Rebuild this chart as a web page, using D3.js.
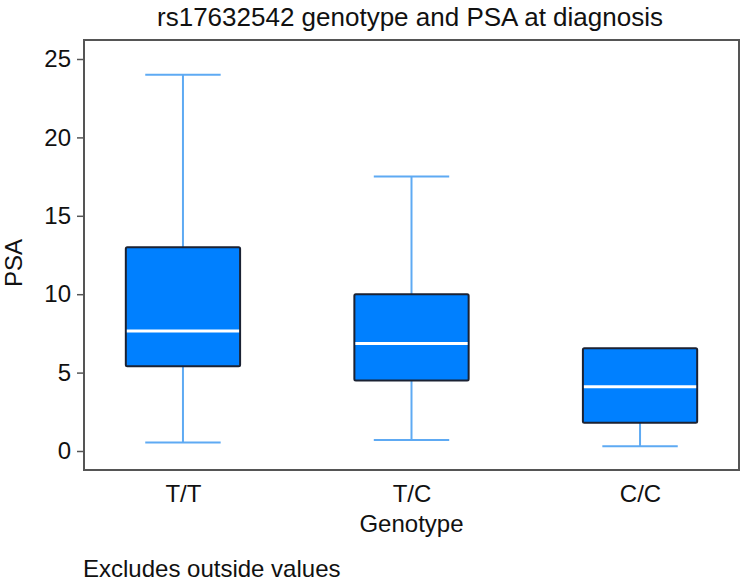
<!DOCTYPE html>
<html>
<head>
<meta charset="utf-8">
<script src="https://cdn.jsdelivr.net/npm/d3@7"></script>
<style>
  html, body { margin: 0; padding: 0; background: #fff; }
  svg text { font-family: "Liberation Sans", Arial, Helvetica, sans-serif; fill: #111; }
</style>
</head>
<body>
<svg id="chart" width="741" height="583"></svg>
<script>
const categories = ["T/T", "T/C", "C/C"];
const whiskerLow  = [0.55, 0.7, 0.3];
const boxLow      = [5.4, 4.5, 1.8];
const medians     = [7.65, 6.85, 4.1];
const boxHigh     = [13.0, 10.0, 6.55];
const whiskerHigh = [24.0, 17.5, 6.55];
const yTicks = [0, 5, 10, 15, 20, 25];
const title = "rs17632542 genotype and PSA at diagnosis";
const xTitle = "Genotype";
const yTitle = "PSA";
const note = "Excludes outside values";

(function () {
const data = categories.map((c, i) => ({
  cat: c, wl: whiskerLow[i], q1: boxLow[i], med: medians[i], q3: boxHigh[i], wh: whiskerHigh[i]
}));

const svg = d3.select("#chart");
const pLeft = 84, pRight = 739, pTop = 40, pBottom = 470;

const x = d3.scalePoint().domain(categories).range([pLeft, pRight]).padding(0.433);
const y = d3.scaleLinear().domain([0, 25]).range([451, 59]);
const step = x.step();
const boxW = step * 0.5;
const capW = step * 0.33;

// Title
svg.append("text").attr("x", 410).attr("y", 26)
  .attr("text-anchor", "middle").style("font-size", "26px").text(title);

// Y axis
const yAxis = svg.append("g").attr("transform", `translate(${pLeft},0)`)
  .call(d3.axisLeft(y).tickValues(yTicks).tickSize(7).tickPadding(6));
yAxis.select(".domain").remove();
yAxis.selectAll(".tick line").attr("stroke", "#555").attr("stroke-width", 1.5);
yAxis.selectAll(".tick text").style("font-size", "24px").attr("fill", "#111")
  .style("font-family", '"Liberation Sans", Arial, sans-serif');

// X axis labels
const xAxis = svg.append("g").attr("transform", `translate(0,${pBottom})`)
  .call(d3.axisBottom(x).tickSize(0).tickPadding(15));
xAxis.select(".domain").remove();
xAxis.selectAll(".tick text").style("font-size", "24px").attr("fill", "#111")
  .style("font-family", '"Liberation Sans", Arial, sans-serif');

// Axis titles
svg.append("text").attr("x", x("T/C")).attr("y", 532).attr("text-anchor", "middle")
  .style("font-size", "24px").text(xTitle);
svg.append("text").attr("transform", `translate(22,${(pTop + pBottom) / 2 + 8}) rotate(-90)`)
  .attr("text-anchor", "middle").style("font-size", "24px").text(yTitle);

// Footnote
svg.append("text").attr("x", 83).attr("y", 577).style("font-size", "24px").text(note);

// Boxes
const g = svg.append("g");
const whiskColor = "#5eaaf3";
const boxes = g.selectAll("g.box").data(data).join("g").attr("class", "box");

boxes.append("line")
  .attr("x1", d => x(d.cat)).attr("x2", d => x(d.cat))
  .attr("y1", d => y(d.wh)).attr("y2", d => y(d.q3))
  .attr("stroke", whiskColor).attr("stroke-width", 2);
boxes.append("line")
  .attr("x1", d => x(d.cat)).attr("x2", d => x(d.cat))
  .attr("y1", d => y(d.q1)).attr("y2", d => y(d.wl))
  .attr("stroke", whiskColor).attr("stroke-width", 2);
boxes.filter(d => d.wh > d.q3).append("line")
  .attr("x1", d => x(d.cat) - capW / 2).attr("x2", d => x(d.cat) + capW / 2)
  .attr("y1", d => y(d.wh)).attr("y2", d => y(d.wh))
  .attr("stroke", whiskColor).attr("stroke-width", 2);
boxes.append("line")
  .attr("x1", d => x(d.cat) - capW / 2).attr("x2", d => x(d.cat) + capW / 2)
  .attr("y1", d => y(d.wl)).attr("y2", d => y(d.wl))
  .attr("stroke", whiskColor).attr("stroke-width", 2);
boxes.append("rect")
  .attr("x", d => x(d.cat) - boxW / 2).attr("width", boxW)
  .attr("y", d => y(d.q3)).attr("height", d => y(d.q1) - y(d.q3))
  .attr("rx", 1.5)
  .attr("fill", "#0080ff").attr("stroke", "#1b2233").attr("stroke-width", 2);
boxes.append("line")
  .attr("x1", d => x(d.cat) - boxW / 2 + 1).attr("x2", d => x(d.cat) + boxW / 2 - 1)
  .attr("y1", d => y(d.med)).attr("y2", d => y(d.med))
  .attr("stroke", "#ffffff").attr("stroke-width", 3);

// Frame
svg.append("rect").attr("x", pLeft).attr("y", pTop)
  .attr("width", pRight - pLeft).attr("height", pBottom - pTop)
  .attr("fill", "none").attr("stroke", "#555").attr("stroke-width", 2);
})();
</script>
</body>
</html>
